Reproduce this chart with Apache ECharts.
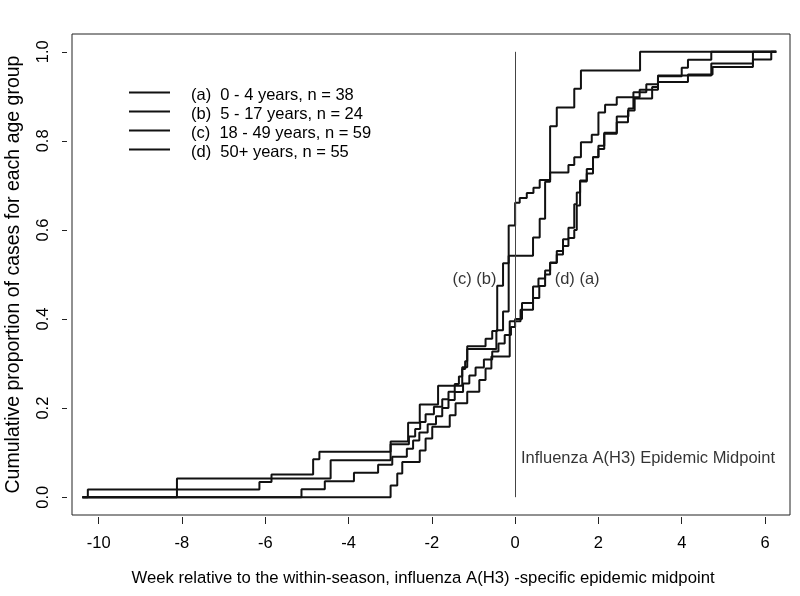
<!DOCTYPE html>
<html>
<head>
<meta charset="utf-8">
<script src="https://cdn.jsdelivr.net/npm/echarts@6/dist/echarts.min.js"></script>
<style>
  html, body { margin: 0; padding: 0; background: #fff; }
  #chart { width: 800px; height: 596px; }
</style>
</head>
<body>
<div id="chart"></div>
<script>
// step data: week of each jump and the cumulative proportion after it
const aX = [-2.99, -2.83, -2.71, -2.29, -2.15, -1.99, -1.57, -1.43, -1.15, -0.86, -0.71, -0.57, -0.13, 0.13, 0.43, 0.58, 0.72, 0.84, 1.0, 1.15, 1.28, 1.42, 1.48, 1.56, 1.72, 1.87, 2.0, 2.14, 2.44, 2.71, 2.87, 3.29, 3.43, 4.71, 5.71];
const aY = [0.026, 0.053, 0.079, 0.105, 0.132, 0.158, 0.184, 0.211, 0.237, 0.263, 0.289, 0.316, 0.395, 0.421, 0.447, 0.474, 0.5, 0.526, 0.553, 0.579, 0.605, 0.658, 0.684, 0.711, 0.737, 0.763, 0.789, 0.816, 0.842, 0.868, 0.895, 0.921, 0.947, 0.974, 1.0];

const bX = [-8.12, -4.43, -2.99, -2.57, -2.29, -1.85, -1.27, -1.15, -0.45, -0.29, -0.155, 0.43, 0.59, 0.72, 0.84, 1.0, 1.42, 1.58, 3.0];
const bY = [0.042, 0.083, 0.125, 0.167, 0.208, 0.25, 0.292, 0.333, 0.375, 0.417, 0.542, 0.583, 0.625, 0.708, 0.833, 0.875, 0.917, 0.958, 1.0];

const cX = [-10.26, -6.14, -5.85, -4.85, -4.70, -2.99, -2.55, -2.4, -2.28, -2.15, -1.95, -1.75, -1.6, -1.45, -1.35, -1.27, -1.2, -1.15, -0.71, -0.55, -0.43, -0.29, -0.155, 0.0, 0.11, 0.28, 0.44, 0.59, 0.84, 1.28, 1.42, 1.58, 1.84, 2.0, 2.16, 2.44, 2.99, 3.43, 4.15, 4.74, 5.71, 6.15];
const cY = [0.017, 0.034, 0.051, 0.085, 0.102, 0.119, 0.136, 0.153, 0.169, 0.186, 0.203, 0.22, 0.237, 0.254, 0.271, 0.288, 0.305, 0.339, 0.356, 0.373, 0.475, 0.525, 0.61, 0.661, 0.672, 0.683, 0.695, 0.712, 0.729, 0.746, 0.763, 0.797, 0.814, 0.864, 0.881, 0.898, 0.915, 0.932, 0.949, 0.966, 0.983, 1.0];

const dX = [-5.13, -4.57, -3.87, -3.29, -2.95, -2.6, -2.45, -2.3, -2.1, -1.9, -1.75, -1.6, -1.45, -1.25, -1.1, -0.95, -0.75, -0.55, -0.4, -0.25, -0.1, 0.0, 0.165, 0.43, 0.56, 0.72, 0.84, 1.0, 1.15, 1.28, 1.42, 1.48, 1.56, 1.72, 1.87, 2.0, 2.14, 2.44, 2.72, 2.84, 3.15, 3.43, 4.0, 4.15, 4.71];
const dY = [0.018, 0.036, 0.055, 0.073, 0.091, 0.109, 0.127, 0.145, 0.164, 0.182, 0.2, 0.218, 0.236, 0.255, 0.273, 0.291, 0.309, 0.327, 0.345, 0.364, 0.382, 0.4, 0.436, 0.473, 0.491, 0.509, 0.527, 0.545, 0.564, 0.582, 0.6, 0.655, 0.709, 0.727, 0.764, 0.782, 0.818, 0.855, 0.873, 0.909, 0.927, 0.945, 0.964, 0.982, 1.0];

const groupNames = [
  '(a)  0 - 4 years, n = 38',
  '(b)  5 - 17 years, n = 24',
  '(c)  18 - 49 years, n = 59',
  '(d)  50+ years, n = 55'
];
const xTicks = [-10, -8, -6, -4, -2, 0, 2, 4, 6];
const yTicks = [0, 0.2, 0.4, 0.6, 0.8, 1.0];
const lineStart = -10.39, lineEnd = 6.27;
const midX = 0;
const notes = [
  { text: '(c) (b)', x: -0.45, y: 0.49, side: 'left' },
  { text: '(d) (a)', x: 0.95, y: 0.49, side: 'right' },
  { text: 'Influenza A(H3) Epidemic Midpoint', x: 0.14, y: 0.088, side: 'right' }
];

const font = "'Liberation Sans', Arial, Helvetica, sans-serif";

function ecdf(xs, ys) {
  const pts = [[lineStart, 0]];
  xs.forEach((x, i) => pts.push([x, ys[i]]));
  pts.push([lineEnd, 1]);
  return pts;
}

function stepSeries(name, xs, ys) {
  return {
    name: name,
    type: 'line',
    step: 'end',
    symbol: 'none',
    silent: true,
    color: '#111',
    lineStyle: { color: '#111', width: 2 },
    data: ecdf(xs, ys)
  };
}

const series = [
  stepSeries(groupNames[0], aX, aY),
  stepSeries(groupNames[1], bX, bY),
  stepSeries(groupNames[2], cX, cY),
  stepSeries(groupNames[3], dX, dY)
];

// vertical midpoint line
series[0].markLine = {
  symbol: 'none',
  silent: true,
  label: { show: false },
  lineStyle: { color: '#444', width: 1, type: 'solid' },
  data: [[{ coord: [midX, 0] }, { coord: [midX, 1] }]]
};

// text notes inside the plot
series.push({
  type: 'scatter',
  symbolSize: 0,
  silent: true,
  data: notes.map(n => ({
    value: [n.x, n.y],
    label: {
      show: true,
      position: n.side,
      distance: 0,
      formatter: n.text,
      color: '#000',
      fontSize: 16.5,
      fontFamily: font
    }
  }))
});

const chart = echarts.init(document.getElementById('chart'), null, { renderer: 'canvas' });
chart.setOption({
  animation: false,
  backgroundColor: '#fff',
  textStyle: { fontFamily: font },
  grid: {
    left: 72, right: 10, top: 34, bottom: 81,
    containLabel: false,
    outerBoundsMode: 'none',
    show: true, borderColor: '#222', borderWidth: 1
  },
  legend: {
    data: groupNames,
    orient: 'vertical',
    left: 124, top: 81,
    // thin bar at the top of an 8px box, so the text sits a little below the line
    icon: 'path://M0,0H41V2H0Z M40.9,8H41V8.1H40.9Z',
    itemWidth: 41, itemHeight: 8.1,
    itemGap: 0,
    selectedMode: false,
    textStyle: { fontSize: 16.5, color: '#000', lineHeight: 19, padding: [0, 0, 0, 16], fontFamily: font }
  },
  xAxis: {
    type: 'value',
    min: -10.64, max: 6.6,
    offset: 2,
    axisLine: { show: false, onZero: false },
    splitLine: { show: false },
    axisTick: { show: true, length: 7, customValues: xTicks, lineStyle: { color: '#222' } },
    axisLabel: { customValues: xTicks, margin: 18, fontSize: 16.5, color: '#000' },
    name: 'Week relative to the within-season, influenza A(H3) -specific epidemic midpoint',
    nameLocation: 'middle',
    nameGap: 53,
    nameTextStyle: { fontSize: 16.7, color: '#000', padding: [0, 16, 0, 0] }
  },
  yAxis: {
    type: 'value',
    min: -0.04, max: 1.04,
    offset: 5,
    axisLine: { show: false, onZero: false },
    splitLine: { show: false },
    axisTick: { show: true, length: 5, customValues: yTicks, lineStyle: { color: '#222' } },
    axisLabel: {
      customValues: yTicks, rotate: 90, margin: 15, fontSize: 16.5, color: '#000',
      formatter: v => v.toFixed(1)
    },
    name: 'Cumulative proportion of cases for each age group',
    nameLocation: 'middle',
    nameGap: 43,
    nameTextStyle: { fontSize: 19.5, color: '#000' }
  },
  series: series
});
</script>
</body>
</html>
